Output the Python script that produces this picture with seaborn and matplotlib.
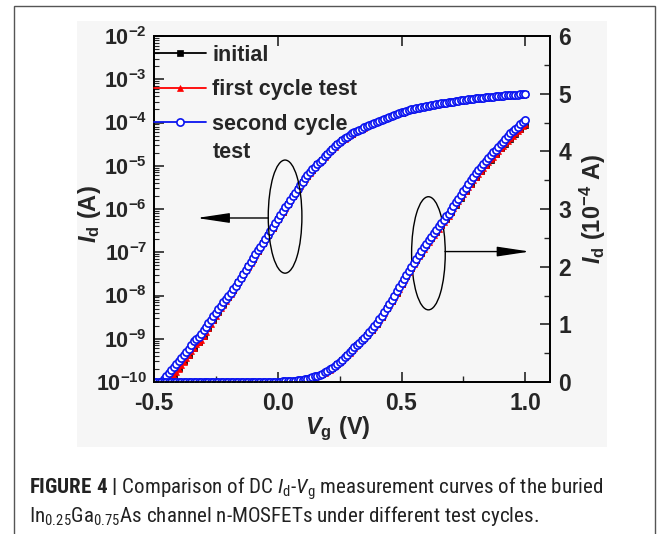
import numpy as np
import matplotlib
matplotlib.use("Agg")
import matplotlib.pyplot as plt
import seaborn as sns
from matplotlib import font_manager as fm
from matplotlib.lines import Line2D
from matplotlib.patches import Ellipse, Rectangle
from matplotlib.ticker import MultipleLocator, LogLocator, NullFormatter, FuncFormatter, FormatStrFormatter

# ---------------- data ----------------
vg = np.linspace(-0.5, 1.0, 151)          # gate voltage, 0.01 V steps
vg_initial = np.linspace(-0.5, 1.0, 76)   # initial sweep, 0.02 V steps

id_second = [
    5.6e-11, 6.6e-11, 7.9e-11, 1.0e-10, 1.17e-10, 1.38e-10, 1.62e-10, 1.91e-10, 2.24e-10, 2.63e-10,
    3.09e-10, 3.63e-10, 4.27e-10, 5.01e-10, 5.89e-10, 7.24e-10, 8.91e-10, 9.77e-10, 1.07e-9, 1.32e-9,
    1.58e-9, 1.91e-9, 2.29e-9, 2.75e-9, 3.31e-9, 3.98e-9, 4.79e-9, 5.75e-9, 6.92e-9, 8.32e-9,
    1.00e-8, 1.15e-8, 1.38e-8, 1.70e-8, 2.09e-8, 2.57e-8, 3.16e-8, 3.89e-8, 4.79e-8, 5.89e-8,
    7.24e-8, 8.91e-8, 1.10e-7, 1.35e-7, 1.66e-7, 2.04e-7, 2.51e-7, 3.09e-7, 3.80e-7, 4.79e-7,
    5.89e-7, 7.24e-7, 8.91e-7, 1.10e-6, 1.32e-6, 1.62e-6, 2.00e-6, 2.40e-6, 2.95e-6, 3.55e-6,
    4.27e-6, 5.13e-6, 6.03e-6, 7.08e-6, 8.32e-6, 9.55e-6, 1.10e-5, 1.23e-5, 1.38e-5, 1.65e-5,
    1.90e-5, 2.20e-5, 2.50e-5, 2.80e-5, 3.15e-5, 3.50e-5, 3.90e-5, 4.30e-5, 4.70e-5, 5.15e-5,
    5.60e-5, 6.00e-5, 6.40e-5, 6.80e-5, 7.25e-5, 7.70e-5, 8.20e-5, 8.70e-5, 9.20e-5, 9.70e-5,
    1.02e-4, 1.09e-4, 1.15e-4, 1.22e-4, 1.29e-4, 1.36e-4, 1.43e-4, 1.50e-4, 1.57e-4, 1.645e-4,
    1.72e-4, 1.79e-4, 1.86e-4, 1.93e-4, 2.00e-4, 2.07e-4, 2.14e-4, 2.21e-4, 2.27e-4, 2.34e-4,
    2.40e-4, 2.46e-4, 2.52e-4, 2.58e-4, 2.64e-4, 2.70e-4, 2.76e-4, 2.81e-4, 2.87e-4, 2.92e-4,
    2.98e-4, 3.05e-4, 3.12e-4, 3.18e-4, 3.25e-4, 3.31e-4, 3.37e-4, 3.44e-4, 3.50e-4, 3.56e-4,
    3.62e-4, 3.67e-4, 3.73e-4, 3.78e-4, 3.83e-4, 3.88e-4, 3.93e-4, 3.98e-4, 4.03e-4, 4.08e-4,
    4.13e-4, 4.17e-4, 4.22e-4, 4.26e-4, 4.31e-4, 4.35e-4, 4.39e-4, 4.43e-4, 4.47e-4, 4.51e-4,
    4.55e-4,
]

id_first = [
    4.0e-11, 4.7e-11, 5.5e-11, 6.5e-11, 7.6e-11, 8.7e-11, 1.02e-10, 1.20e-10, 1.41e-10, 1.70e-10,
    2.04e-10, 2.45e-10, 2.95e-10, 3.55e-10, 4.27e-10, 5.13e-10, 6.17e-10, 7.41e-10, 8.51e-10, 9.33e-10,
    1.17e-9, 1.45e-9, 1.78e-9, 2.19e-9, 2.69e-9, 3.31e-9, 4.07e-9, 5.01e-9, 6.17e-9, 7.59e-9,
    9.12e-9, 1.10e-8, 1.32e-8, 1.66e-8, 2.04e-8, 2.51e-8, 3.09e-8, 3.80e-8, 4.68e-8, 5.75e-8,
    7.08e-8, 8.71e-8, 1.07e-7, 1.32e-7, 1.62e-7, 2.00e-7, 2.45e-7, 3.02e-7, 3.72e-7, 4.68e-7,
    5.75e-7, 7.08e-7, 8.71e-7, 1.07e-6, 1.29e-6, 1.58e-6, 1.95e-6, 2.34e-6, 2.88e-6, 3.47e-6,
    4.17e-6, 5.01e-6, 5.89e-6, 6.92e-6, 8.13e-6, 9.33e-6, 1.07e-5, 1.20e-5, 1.35e-5, 1.60e-5,
    1.85e-5, 2.15e-5, 2.45e-5, 2.75e-5, 3.10e-5, 3.45e-5, 3.85e-5, 4.25e-5, 4.65e-5, 5.10e-5,
    5.55e-5, 5.95e-5, 6.35e-5, 6.75e-5, 7.20e-5, 7.65e-5, 8.10e-5, 8.60e-5, 9.10e-5, 9.60e-5,
    1.01e-4, 1.075e-4, 1.135e-4, 1.205e-4, 1.275e-4, 1.34e-4, 1.41e-4, 1.48e-4, 1.55e-4, 1.62e-4,
    1.695e-4, 1.765e-4, 1.835e-4, 1.905e-4, 1.97e-4, 2.04e-4, 2.11e-4, 2.18e-4, 2.24e-4, 2.30e-4,
    2.37e-4, 2.43e-4, 2.49e-4, 2.545e-4, 2.605e-4, 2.66e-4, 2.72e-4, 2.77e-4, 2.83e-4, 2.88e-4,
    2.95e-4, 3.01e-4, 3.08e-4, 3.14e-4, 3.20e-4, 3.26e-4, 3.32e-4, 3.38e-4, 3.44e-4, 3.50e-4,
    3.56e-4, 3.61e-4, 3.665e-4, 3.715e-4, 3.765e-4, 3.81e-4, 3.86e-4, 3.91e-4, 3.96e-4, 4.01e-4,
    4.06e-4, 4.10e-4, 4.145e-4, 4.185e-4, 4.23e-4, 4.27e-4, 4.31e-4, 4.355e-4, 4.395e-4, 4.435e-4,
    4.48e-4,
]

id_initial = [
    4.2e-11, 5.7e-11, 7.8e-11, 1.04e-10, 1.43e-10, 2.07e-10, 2.98e-10, 4.30e-10, 6.20e-10, 8.60e-10,
    1.18e-9, 1.80e-9, 2.71e-9, 4.10e-9, 6.20e-9, 9.20e-9, 1.33e-8, 2.05e-8, 3.10e-8, 4.70e-8,
    7.10e-8, 1.07e-7, 1.62e-7, 2.45e-7, 3.72e-7, 5.75e-7, 8.70e-7, 1.29e-6, 1.95e-6, 2.88e-6,
    4.17e-6, 5.89e-6, 8.13e-6, 1.07e-5, 1.35e-5, 1.85e-5, 2.45e-5, 3.10e-5, 3.85e-5, 4.65e-5,
    5.55e-5, 6.35e-5, 7.20e-5, 8.10e-5, 9.10e-5, 1.01e-4, 1.135e-4, 1.275e-4, 1.41e-4, 1.55e-4,
    1.695e-4, 1.835e-4, 1.97e-4, 2.11e-4, 2.24e-4, 2.37e-4, 2.49e-4, 2.605e-4, 2.72e-4, 2.83e-4,
    2.94e-4, 3.07e-4, 3.19e-4, 3.31e-4, 3.43e-4, 3.55e-4, 3.655e-4, 3.755e-4, 3.85e-4, 3.95e-4,
    4.05e-4, 4.135e-4, 4.22e-4, 4.30e-4, 4.38e-4, 4.46e-4,
]

series_labels = ["initial", "first cycle test", "second cycle"]
x_ticks = [-0.5, 0.0, 0.5, 1.0]
right_ticks = [0, 1, 2, 3, 4, 5, 6]

# ---------------- style ----------------
sns.set_style("ticks")
avail = {f.name for f in fm.fontManager.ttflist}
NARROW = next((n for n in ["Liberation Sans Narrow", "Roboto Condensed", "Arial Narrow",
                           "Nimbus Sans Narrow"] if n in avail), "Liberation Sans")
plt.rcParams["font.family"] = ["Liberation Sans", "DejaVu Sans"]
plt.rcParams["font.weight"] = "bold"
plt.rcParams["mathtext.fontset"] = "custom"
plt.rcParams["mathtext.rm"] = NARROW + ":normal"
plt.rcParams["mathtext.it"] = NARROW + ":italic:normal"
plt.rcParams["mathtext.sf"] = NARROW + ":bold"
plt.rcParams["mathtext.bf"] = "Liberation Sans:bold"
plt.rcParams["mathtext.bfit"] = "Liberation Sans:italic:bold"
plt.rcParams["axes.linewidth"] = 1.3

W, H = 669, 534
fig = plt.figure(figsize=(W / 100, H / 100), dpi=100, facecolor="white")

# grey panel behind the chart and thin caption frame
PANEL = "#f6f6f6"
fig.patches.append(Rectangle((77 / W, 1 - 447 / H), 530 / W, 426 / H, transform=fig.transFigure,
                             facecolor=PANEL, edgecolor="none", zorder=-2))
fig.patches.append(Rectangle((14 / W, -0.05), 641 / W, 1 - 6 / H + 0.05, transform=fig.transFigure,
                             facecolor="none", edgecolor="#555555", lw=1.0, zorder=-1))

ax = fig.add_axes([154 / W, 1 - 382 / H, 396 / W, 346 / H])
ax.set_facecolor(PANEL)
ax2 = ax.twinx()

BLUE, RED = "#0a14f0", "#ff0000"
styles = [
    (vg_initial, id_initial, dict(color="black", marker="s", markersize=4.0, markerfacecolor="black",
                                   markeredgecolor="black", markeredgewidth=0.5)),
    (vg, id_first, dict(color=RED, marker="^", markersize=5.0, markerfacecolor=RED,
                        markeredgecolor=RED, markeredgewidth=0.5)),
    (vg, id_second, dict(color=BLUE, marker="o", markersize=5.2, markerfacecolor="white",
                         markeredgecolor=BLUE, markeredgewidth=1.2)),
]
for x, y, st in styles:
    y = np.asarray(y)
    sns.lineplot(x=x, y=y, ax=ax, estimator=None, sort=False, lw=1.0, legend=False, **st)
    sns.lineplot(x=x, y=y * 1e4, ax=ax2, estimator=None, sort=False, lw=1.0, legend=False, **st)

# ---------------- axes ----------------
ax.set_yscale("log")
ax.set_xlim(-0.5, 1.1)
ax.set_ylim(1e-10, 1e-2)
ax2.set_ylim(0, 6)

ax.xaxis.set_major_locator(MultipleLocator(0.5))
ax.xaxis.set_minor_locator(MultipleLocator(0.25))
ax.set_xticks(x_ticks)
ax.xaxis.set_major_formatter(FormatStrFormatter("%.1f"))
ax.yaxis.set_major_locator(LogLocator(base=10, numticks=20))
ax.yaxis.set_minor_locator(LogLocator(base=10, subs=np.arange(2, 10), numticks=20))
ax.yaxis.set_minor_formatter(NullFormatter())
ax.yaxis.set_major_formatter(FuncFormatter(lambda v, p: r"$\mathbf{10^{%d}}$" % int(round(np.log10(v)))))
ax2.set_yticks(right_ticks)
ax2.yaxis.set_minor_locator(MultipleLocator(0.5))

ax.tick_params(axis="x", which="major", direction="in", top=True, bottom=True, length=7, width=1.2,
               labelsize=16.5, pad=7.5)
ax.tick_params(axis="x", which="minor", direction="in", top=False, bottom=True, length=4, width=1.0)
ax.tick_params(axis="y", which="major", direction="in", left=True, right=False, length=7, width=1.2,
               labelsize=15.5, pad=5)
ax.tick_params(axis="y", which="minor", direction="in", left=True, right=False, length=3.5, width=0.8)
ax2.tick_params(axis="y", which="major", direction="in", right=True, length=7, width=1.2,
                labelsize=16.5, pad=6)
ax2.tick_params(axis="y", which="minor", direction="in", right=True, length=4, width=1.0)
for a in (ax, ax2):
    for s in a.spines.values():
        s.set_linewidth(1.3)
        s.set_color("black")

ax.set_xlabel(r"$\mathbfit{V}_\mathbf{g}$ (V)", fontsize=17, fontweight="bold")
ax.xaxis.set_label_coords(0.465, -0.095)
ax.set_ylabel(r"$\mathbfit{I}_\mathbf{d}$ (A)", fontsize=17, fontweight="bold")
ax.yaxis.set_label_coords(-0.128, 0.486)
ax2.set_ylabel(r"$\mathbfit{I}_\mathbf{d}$ (10$^{\mathbf{-4}}$ A)", fontsize=17, fontweight="bold",
               labelpad=5)

# ---------------- legend ----------------
handles = [Line2D([], [], lw=1.3, **st) for _, _, st in styles]
leg = ax2.legend(handles, series_labels, loc="upper left", bbox_to_anchor=(0.0, 0.974),
                 frameon=False, handlelength=2.4, handletextpad=0.3, borderpad=0,
                 borderaxespad=0, labelspacing=0.62, prop={"weight": "bold", "size": 15.5})
ax2.text(0.149, 0.662, "test", transform=ax2.transAxes, va="center", ha="left",
         fontsize=15.5, fontweight="bold")

# ---------------- ellipses + arrows ----------------
for cx, cy in [(0.331, 0.478), (0.693, 0.372)]:
    ax2.add_patch(Ellipse((cx, cy), 0.085, 0.327, transform=ax2.transAxes, fill=False,
                          ec="black", lw=1.0))
arrow_kw = dict(arrowstyle="-|>,head_length=2.0,head_width=0.3", lw=1.0, color="black",
                shrinkA=0, shrinkB=0)
ax2.annotate("", xy=(0.108, 0.474), xytext=(0.289, 0.474), xycoords="axes fraction",
             textcoords="axes fraction", arrowprops=arrow_kw)
ax2.annotate("", xy=(0.949, 0.377), xytext=(0.735, 0.377), xycoords="axes fraction",
             textcoords="axes fraction", arrowprops=arrow_kw)

# ---------------- caption ----------------
cap1 = (r"$\mathsf{FIGURE\ 4\ |}$ Comparison of DC $\mathit{I}_\mathrm{d}$-$\mathit{V}_\mathrm{g}$"
        r" measurement curves of the buried")
cap2 = (r"In$_\mathrm{0.25}$Ga$_\mathrm{0.75}$As channel n-MOSFETs under different test cycles.")
t1 = fig.text(29 / W, 1 - 494 / H, cap1, family=NARROW, fontweight="normal", fontsize=13.4,
              va="baseline", ha="left", color="#222222")
t2 = fig.text(29 / W, 1 - 522.5 / H, cap2, family=NARROW, fontweight="normal", fontsize=13.4,
              va="baseline", ha="left", color="#222222")
fig.canvas.draw()
bw = t1.get_window_extent().width
if bw > 0:
    fs = 13.4 * 574.0 / bw
    t1.set_fontsize(fs)
    t2.set_fontsize(fs)

fig.savefig("out.png", dpi=100, facecolor="white")
